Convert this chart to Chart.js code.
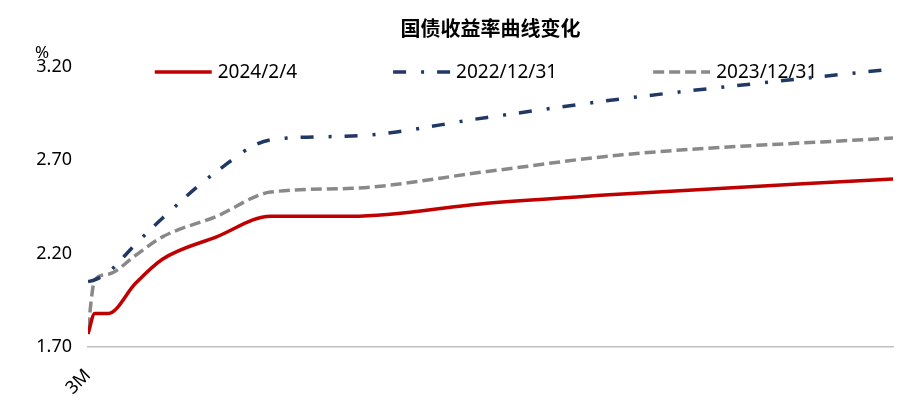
<!DOCTYPE html>
<html>
<head>
<meta charset="utf-8">
<script src="https://cdn.jsdelivr.net/npm/chart.js@4/dist/chart.umd.min.js"></script>
<style>
  html, body { margin: 0; padding: 0; background: #fff; }
  #curve { display: block; }
</style>
</head>
<body>
<canvas id="curve" width="921" height="409"></canvas>
<script>
// tenors in years, only the first label is shown on the axis
const tenors = [0.25, 0.5, 1, 2, 3, 5, 7, 10, 15, 20, 30];
const tenorLabels = ['3M', '6M', '1Y', '2Y', '3Y', '5Y', '7Y', '10Y', '15Y', '20Y', '30Y'];
const shownTenors = [0.25];

const yTicks = [1.70, 2.20, 2.70, 3.20];

const seriesNames = ['2024/2/4', '2022/12/31', '2023/12/31'];
const y20240204 = [1.77, 1.88, 1.88, 2.04, 2.17, 2.29, 2.40, 2.40, 2.47, 2.52, 2.60];
const y20221231 = [2.05, 2.06, 2.10, 2.25, 2.39, 2.64, 2.81, 2.83, 2.93, 3.03, 3.19];
const y20231231 = [1.80, 2.06, 2.09, 2.19, 2.29, 2.40, 2.53, 2.55, 2.64, 2.73, 2.82];

const FONT = '"Noto Sans", "Noto Sans CJK SC", sans-serif';

function points(values) {
  return tenors.map((t, i) => ({ x: t, y: values[i] }));
}

// legend sits inside the plot, drawn under the lines
const insideLegend = {
  id: 'insideLegend',
  beforeDatasetsDraw(chart) {
    const ctx = chart.ctx;
    const sample = 57, gap = 6, spacing = 96;
    ctx.save();
    ctx.font = '19px ' + FONT;
    const sets = chart.data.datasets;
    const widths = sets.map(ds => sample + gap + ctx.measureText(ds.label).width);
    const total = widths.reduce((a, b) => a + b, 0) + spacing * (sets.length - 1);
    let x = 486 - total / 2;
    const y = 72;
    sets.forEach((ds, i) => {
      ctx.beginPath();
      ctx.strokeStyle = ds.borderColor;
      ctx.lineWidth = ds.borderWidth;
      ctx.lineCap = 'butt';
      ctx.setLineDash(ds.borderDash || []);
      ctx.moveTo(x, y);
      ctx.lineTo(x + sample, y);
      ctx.stroke();
      ctx.setLineDash([]);
      ctx.fillStyle = '#000';
      ctx.textAlign = 'left';
      ctx.textBaseline = 'middle';
      ctx.fillText(ds.label, x + sample + gap, y + 1);
      x += widths[i] + spacing;
    });
    ctx.restore();
  }
};

const unitLabel = {
  id: 'unitLabel',
  afterDraw(chart) {
    const ctx = chart.ctx;
    ctx.save();
    ctx.font = '17px ' + FONT;
    ctx.fillStyle = '#000';
    ctx.textAlign = 'left';
    ctx.textBaseline = 'middle';
    ctx.fillText('%', 35, 53);
    ctx.restore();
  }
};

new Chart(document.getElementById('curve'), {
  type: 'line',
  data: {
    datasets: [
      {
        label: seriesNames[0],
        data: points(y20240204),
        borderColor: '#C00000',
        borderWidth: 3.5,
        pointRadius: 0,
        cubicInterpolationMode: 'monotone'
      },
      {
        label: seriesNames[1],
        data: points(y20221231),
        borderColor: '#203864',
        borderWidth: 3.5,
        borderDash: [13, 15, 3, 13],
        pointRadius: 0,
        cubicInterpolationMode: 'monotone'
      },
      {
        label: seriesNames[2],
        data: points(y20231231),
        borderColor: '#898989',
        borderWidth: 3.5,
        borderDash: [11, 5],
        pointRadius: 0,
        cubicInterpolationMode: 'monotone'
      }
    ]
  },
  options: {
    responsive: false,
    animation: false,
    layout: { padding: { top: 0, right: 28, left: 0, bottom: 0 } },
    plugins: {
      legend: { display: false },
      tooltip: { enabled: false },
      title: {
        display: true,
        text: '国债收益率曲线变化',
        fullSize: false,
        color: '#000',
        font: { family: '"Noto Sans CJK SC", sans-serif', size: 20, weight: 'bold', lineHeight: 1.2 },
        padding: { top: 16, bottom: 27 }
      }
    },
    scales: {
      x: {
        type: 'linear',
        min: tenors[0],
        max: tenors[tenors.length - 1],
        grid: { display: false, drawTicks: false },
        border: { display: true, color: '#BFBFBF', width: 1.5 },
        afterBuildTicks(scale) {
          scale.ticks = shownTenors.map(v => ({ value: v }));
        },
        afterFit(scale) { scale.height = 62; },
        ticks: {
          autoSkip: false,
          minRotation: 45,
          maxRotation: 45,
          padding: 18,
          color: '#000',
          font: { family: FONT, size: 18 },
          callback: (v) => tenorLabels[tenors.indexOf(v)]
        }
      },
      y: {
        min: yTicks[0],
        max: yTicks[yTicks.length - 1],
        grid: { display: false, drawTicks: false },
        border: { display: false },
        afterBuildTicks(scale) {
          scale.ticks = yTicks.map(v => ({ value: v }));
        },
        afterFit(scale) { scale.width = 88; },
        ticks: {
          padding: 16,
          color: '#000',
          font: { family: FONT, size: 18 },
          callback: (v) => v.toFixed(2)
        }
      }
    }
  },
  plugins: [insideLegend, unitLabel]
});
</script>
</body>
</html>
